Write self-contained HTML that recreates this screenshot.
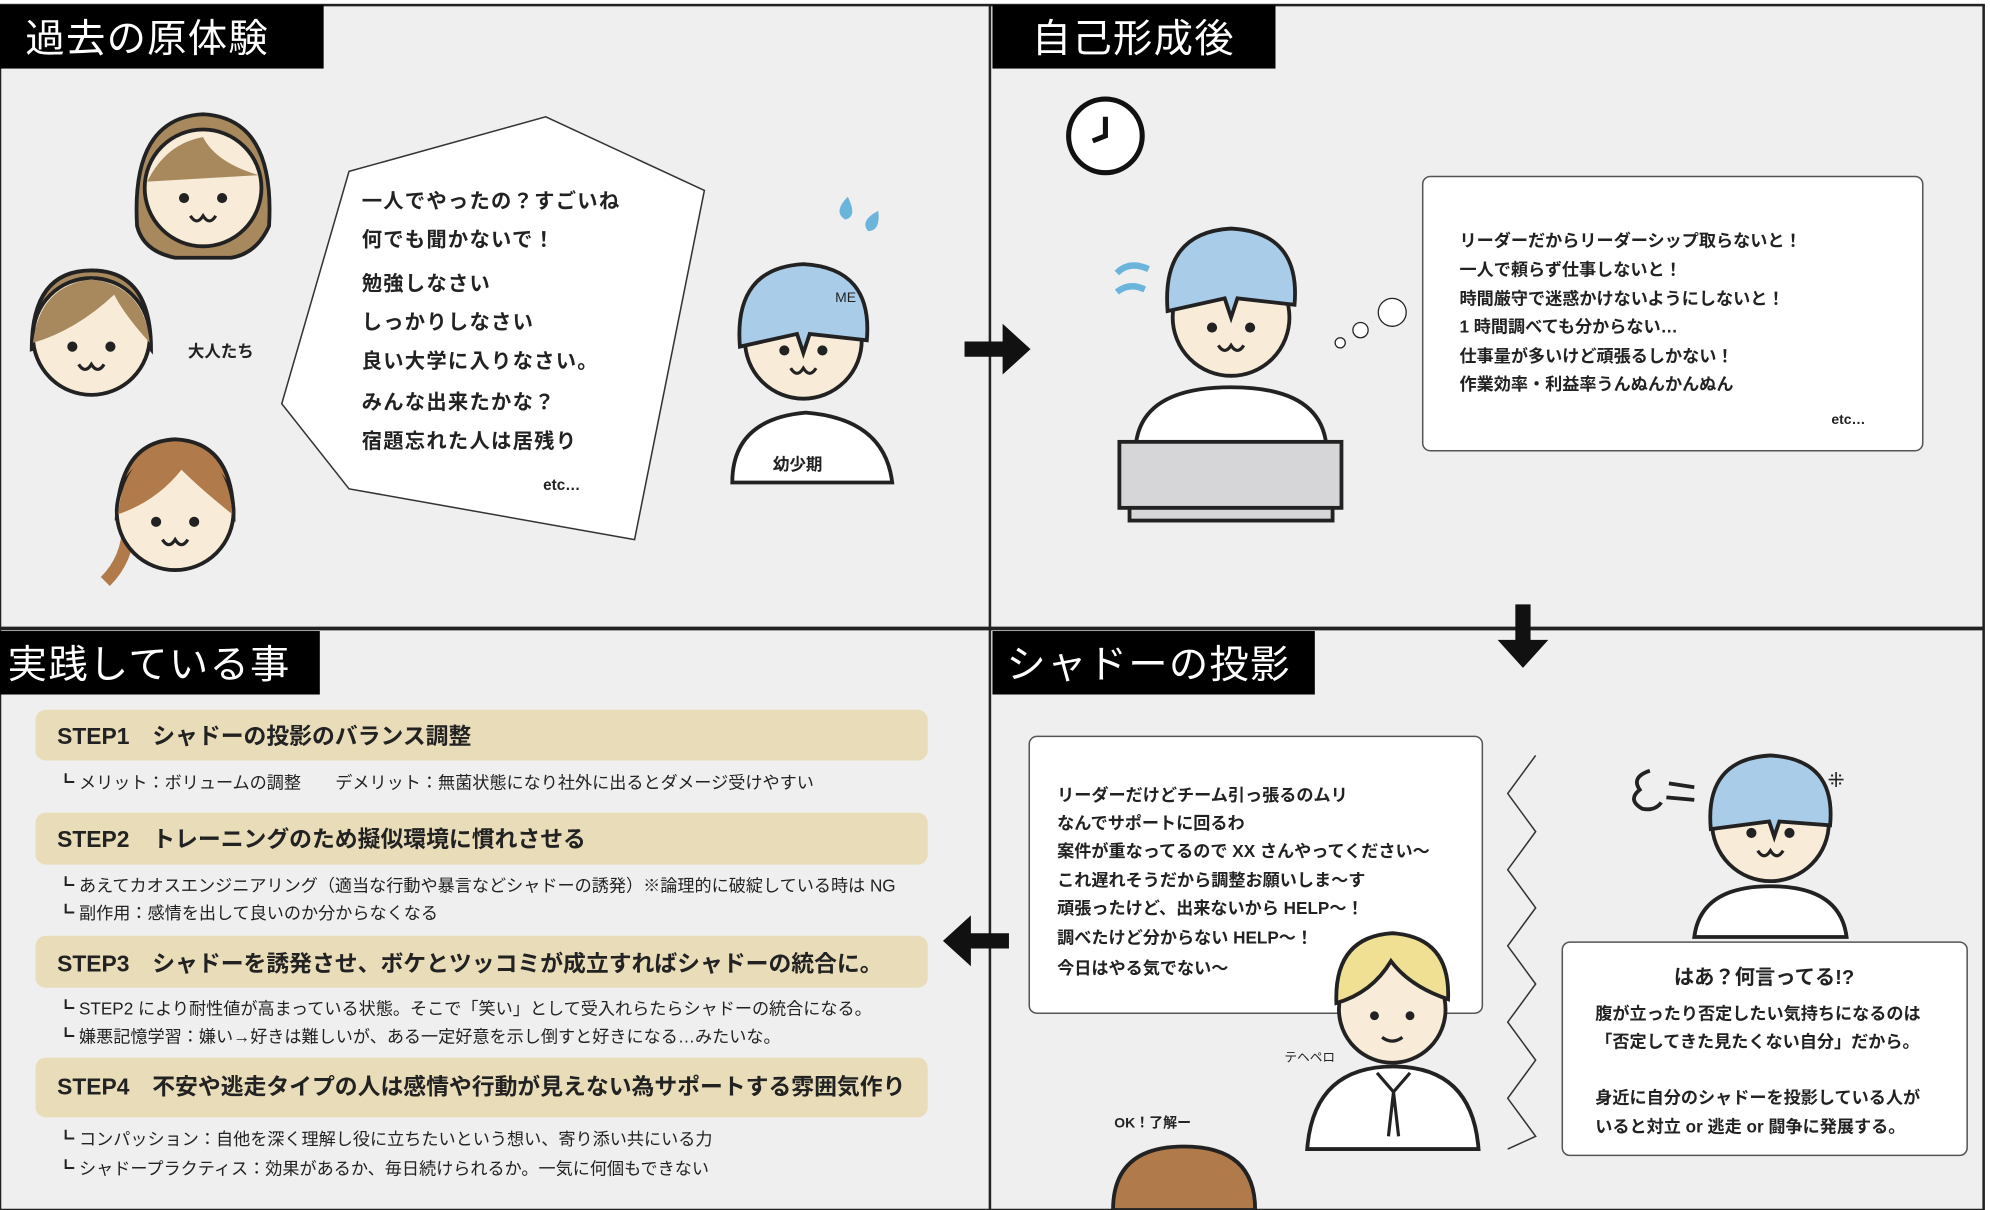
<!DOCTYPE html>
<html><head><meta charset="utf-8"><style>
html,body{margin:0;padding:0;background:#fff;}
svg{display:block;}
text{font-family:"Liberation Sans","Noto Sans CJK JP",sans-serif;fill:#222;}
.t{font-size:16px;font-weight:bold;letter-spacing:1px}
.s{font-size:13.5px;font-weight:bold}
.h{font-size:31px;fill:#fff;letter-spacing:1px}
.st{font-size:18px;font-weight:bold}
</style></head><body>
<svg width="1990" height="1210" viewBox="0 0 1568 953" preserveAspectRatio="none" xmlns="http://www.w3.org/2000/svg">
<defs>
<g id="face">
<circle cx="0" cy="0" r="46" fill="#f8ecd8" stroke="#222" stroke-width="3"/>
<circle cx="-15" cy="8" r="4" fill="#222"/><circle cx="15" cy="8" r="4" fill="#222"/>
<path d="M-10 22 q5 8 10 0 q5 8 10 0" fill="none" stroke="#222" stroke-width="2.5"/>
</g>
</defs>
<rect width="1568" height="953" fill="#fff"/>
<rect x="0" y="4" width="1563" height="949" fill="#efefef" stroke="#222" stroke-width="2"/>
<line x1="780" y1="4" x2="780" y2="953" stroke="#222" stroke-width="2"/>
<line x1="0" y1="495" x2="1563" y2="495" stroke="#222" stroke-width="3"/>
<!-- titles -->
<rect x="0" y="4" width="255" height="50" fill="#000"/><text class="h" x="20" y="41">過去の原体験</text>
<rect x="782" y="4" width="223" height="50" fill="#000"/><text class="h" x="813" y="41">自己形成後</text>
<rect x="0" y="497" width="252" height="50" fill="#000"/><text class="h" x="6" y="534">実践している事</text>
<rect x="782" y="497" width="254" height="50" fill="#000"/><text class="h" x="793" y="534">シャドーの投影</text>

<!-- panel1 people -->
<g transform="translate(160,148)"><path d="M-52 30 q-5 -85 52 -88 q57 3 52 88 q-10 22 -30 25 l-44 0 q-25 -5 -30 -25z" fill="#a8895e" stroke="#222" stroke-width="3"/><use href="#face"/><path d="M-44 -5 q15 -30 44 -35 q10 20 44 30" fill="#a8895e"/></g>
<g transform="translate(72,265)"><path d="M-47 10 q0 -62 47 -62 q47 0 47 62 q-20 -25 -30 -40 q-30 30 -64 40z" fill="#a8895e" stroke="#222" stroke-width="3"/><use href="#face"/><path d="M-46 5 q5 -45 46 -50 q42 5 46 50 q-20 -22 -28 -38 q-30 28 -64 38z" fill="#a8895e"/></g>
<text x="148" y="281" style="font-size:13px;font-weight:bold">大人たち</text>
<g transform="translate(138,403)"><path d="M-55 55 q20 -20 18 -50" fill="none" stroke="#b07a4a" stroke-width="10"/><path d="M-46 5 q2 -60 46 -62 q46 2 46 62 q-25 -20 -40 -35 q-20 25 -52 35z" fill="#b07a4a" stroke="#222" stroke-width="3"/><use href="#face"/><path d="M-45 2 q5 -50 45 -54 q42 4 45 54 q-25 -20 -40 -35 q-20 25 -50 35z" fill="#b07a4a"/></g>

<!-- polygon bubble -->
<polygon points="275,135 430,92 555,150 500,425 275,385 222,318" fill="#fff" stroke="#333" stroke-width="1.2"/>
<g class="t"><text x="285" y="164">一人でやったの？すごいね</text><text x="285" y="194">何でも聞かないで！</text><text x="285" y="229">勉強しなさい</text><text x="285" y="259">しっかりしなさい</text><text x="285" y="290">良い大学に入りなさい。</text><text x="285" y="322">みんな出来たかな？</text><text x="285" y="353">宿題忘れた人は居残り</text></g>
<text x="428" y="386" style="font-size:12px;font-weight:bold">etc…</text>

<!-- child -->
<path d="M577 380 q0 -50 58 -55 q62 5 68 55z" fill="#fff" stroke="#222" stroke-width="3"/>
<text x="609" y="370" style="font-size:13px;font-weight:bold">幼少期</text>
<g transform="translate(633,268)"><use href="#face"/><path d="M-50 5 q-5 -62 50 -65 q55 3 50 60 l-45 -5 l-5 15 l-5 -15z" fill="#a9cde8" stroke="#222" stroke-width="3"/></g>
<text x="658" y="238" style="font-size:11px">ME</text>
<path d="M668 155 q-12 12 -2 18 q10 -2 2 -18z" fill="#6bb4dc"/><path d="M692 166 q-15 8 -8 16 q10 0 8 -16z" fill="#6bb4dc"/>
<!-- arrow right -->
<path d="M760 269 h30 v-14 l22 20 l-22 20 v-14 h-30z" fill="#111"/>

<!-- panel2 -->
<circle cx="871" cy="107" r="29" fill="#fff" stroke="#111" stroke-width="4"/><path d="M871 92 v15 l-10 4" fill="none" stroke="#111" stroke-width="4"/>
<path d="M895 350 q5 -45 75 -45 q70 0 75 45z" fill="#fff" stroke="#222" stroke-width="3"/>
<g transform="translate(970,250)"><use href="#face"/><path d="M-50 -5 q-5 -62 50 -65 q55 3 50 60 l-45 -5 l-5 15 l-5 -15z" fill="#a9cde8" stroke="#222" stroke-width="3"/></g>
<path d="M880 215 q10 -10 25 -3" fill="none" stroke="#6bb4dc" stroke-width="5"/><path d="M880 230 q10 -8 22 -2" fill="none" stroke="#6bb4dc" stroke-width="5"/>
<rect x="882" y="348" width="175" height="52" fill="#d6d6d8" stroke="#222" stroke-width="3"/><rect x="890" y="400" width="160" height="10" fill="#d6d6d8" stroke="#222" stroke-width="3"/>
<circle cx="1056" cy="270" r="4" fill="#fff" stroke="#222"/><circle cx="1072" cy="260" r="6" fill="#fff" stroke="#222"/><circle cx="1097" cy="246" r="11" fill="#fff" stroke="#222"/>
<rect x="1121" y="139" width="394" height="216" rx="6" fill="#fff" stroke="#555" stroke-width="1.2"/>
<g class="s"><text x="1150" y="194">リーダーだからリーダーシップ取らないと！</text><text x="1150" y="217">一人で頼らず仕事しないと！</text><text x="1150" y="240">時間厳守で迷惑かけないようにしないと！</text><text x="1150" y="262">1 時間調べても分からない…</text><text x="1150" y="285">仕事量が多いけど頑張るしかない！</text><text x="1150" y="307">作業効率・利益率うんぬんかんぬん</text></g>
<text x="1443" y="334" style="font-size:11px;font-weight:bold">etc…</text>
<path d="M1194 476 h12 v28 h14 l-20 22 l-20 -22 h14z" fill="#111"/>

<!-- panel3 -->
<g fill="#e8dcb9"><rect x="28" y="559" width="703" height="40" rx="8"/><rect x="28" y="640" width="703" height="41" rx="8"/><rect x="28" y="737" width="703" height="41" rx="8"/><rect x="28" y="833" width="703" height="47" rx="8"/></g>
<g class="st"><text x="45" y="586">STEP1　シャドーの投影のバランス調整</text><text x="45" y="667">STEP2　トレーニングのため擬似環境に慣れさせる</text><text x="45" y="765">STEP3　シャドーを誘発させ、ボケとツッコミが成立すればシャドーの統合に。</text><text x="45" y="862">STEP4　不安や逃走タイプの人は感情や行動が見えない為サポートする雰囲気作り</text></g>
<g class="s" style="font-weight:normal"><text x="45" y="621">┗ メリット：ボリュームの調整　　デメリット：無菌状態になり社外に出るとダメージ受けやすい</text>
<text x="45" y="702">┗ あえてカオスエンジニアリング（適当な行動や暴言などシャドーの誘発）※論理的に破綻している時は NG</text>
<text x="45" y="724">┗ 副作用：感情を出して良いのか分からなくなる</text>
<text x="45" y="799">┗ STEP2 により耐性値が高まっている状態。そこで「笑い」として受入れらたらシャドーの統合になる。</text>
<text x="45" y="821">┗ 嫌悪記憶学習：嫌い→好きは難しいが、ある一定好意を示し倒すと好きになる…みたいな。</text>
<text x="45" y="902">┗ コンパッション：自他を深く理解し役に立ちたいという想い、寄り添い共にいる力</text>
<text x="45" y="925">┗ シャドープラクティス：効果があるか、毎日続けられるか。一気に何個もできない</text></g>
<path d="M795 735 h-30 v-14 l-22 20 l22 20 v-14 h30z" fill="#111"/>

<!-- panel4 -->
<rect x="811" y="580" width="357" height="218" rx="6" fill="#fff" stroke="#555" stroke-width="1.2"/>
<g class="s"><text x="833" y="631">リーダーだけどチーム引っ張るのムリ</text><text x="833" y="653">なんでサポートに回るわ</text><text x="833" y="675">案件が重なってるので XX さんやってください～</text><text x="833" y="698">これ遅れそうだから調整お願いしま～す</text><text x="833" y="720">頑張ったけど、出来ないから HELP～！</text><text x="833" y="743">調べたけど分からない HELP～！</text><text x="833" y="767">今日はやる気でない～</text></g>
<polyline points="1210,595 1188,625 1210,655 1188,685 1210,715 1188,745 1210,775 1188,805 1210,835 1188,865 1210,895 1188,905" fill="none" stroke="#333" stroke-width="1.2"/>
<path d="M1335 738 q5 -40 60 -40 q55 0 60 40z" fill="#fff" stroke="#222" stroke-width="3"/>
<g transform="translate(1395,648)"><use href="#face"/><path d="M-47 5 q-5 -55 47 -58 q52 3 47 55 l-40 -3 l-4 12 l-4 -12z" fill="#a9cde8" stroke="#222" stroke-width="3"/></g>
<path d="M1300 607 q-15 5 -8 15 q-10 8 2 15 q10 2 15 -5" fill="none" stroke="#222" stroke-width="3"/><path d="M1315 617 l20 3 M1313 628 l22 2" stroke="#222" stroke-width="3"/>
<text x="1440" y="620" style="font-size:16px">⁜</text>
<rect x="1231" y="742" width="319" height="168" rx="6" fill="#fff" stroke="#555" stroke-width="1.2"/>
<text x="1390" y="775" text-anchor="middle" style="font-size:16px;font-weight:bold">はあ？何言ってる!?</text>
<g class="s"><text x="1257" y="803">腹が立ったり否定したい気持ちになるのは</text><text x="1257" y="825">「否定してきた見たくない自分」だから。</text><text x="1257" y="869">身近に自分のシャドーを投影している人が</text><text x="1257" y="892">いると対立 or 逃走 or 闘争に発展する。</text></g>
<path d="M1030 905 q5 -65 68 -65 q62 0 67 65z" fill="#fff" stroke="#222" stroke-width="3"/>
<path d="M1085 845 l13 15 l13 -15 M1098 860 l-4 35 M1098 860 l4 35" fill="none" stroke="#222" stroke-width="2.5"/>
<g transform="translate(1097,795)"><circle r="42" fill="#f8ecd8" stroke="#222" stroke-width="3"/><circle cx="-14" cy="5" r="3.5" fill="#222"/><circle cx="14" cy="5" r="3.5" fill="#222"/><path d="M-8 22 q8 6 16 0" fill="none" stroke="#222" stroke-width="2.5"/><path d="M-44 -5 q-2 -52 44 -55 q46 3 44 52 q-30 -10 -45 -30 q-15 25 -43 33z" fill="#f0e094" stroke="#222" stroke-width="3"/></g>
<text x="1012" y="836" style="font-size:10px">テヘペロ</text>
<text x="878" y="888" style="font-size:11px;font-weight:bold">OK！了解ー</text>
<path d="M877 953 q0 -50 56 -50 q56 0 56 50z" fill="#b07a4a" stroke="#222" stroke-width="3"/>
</svg>
</body></html>
